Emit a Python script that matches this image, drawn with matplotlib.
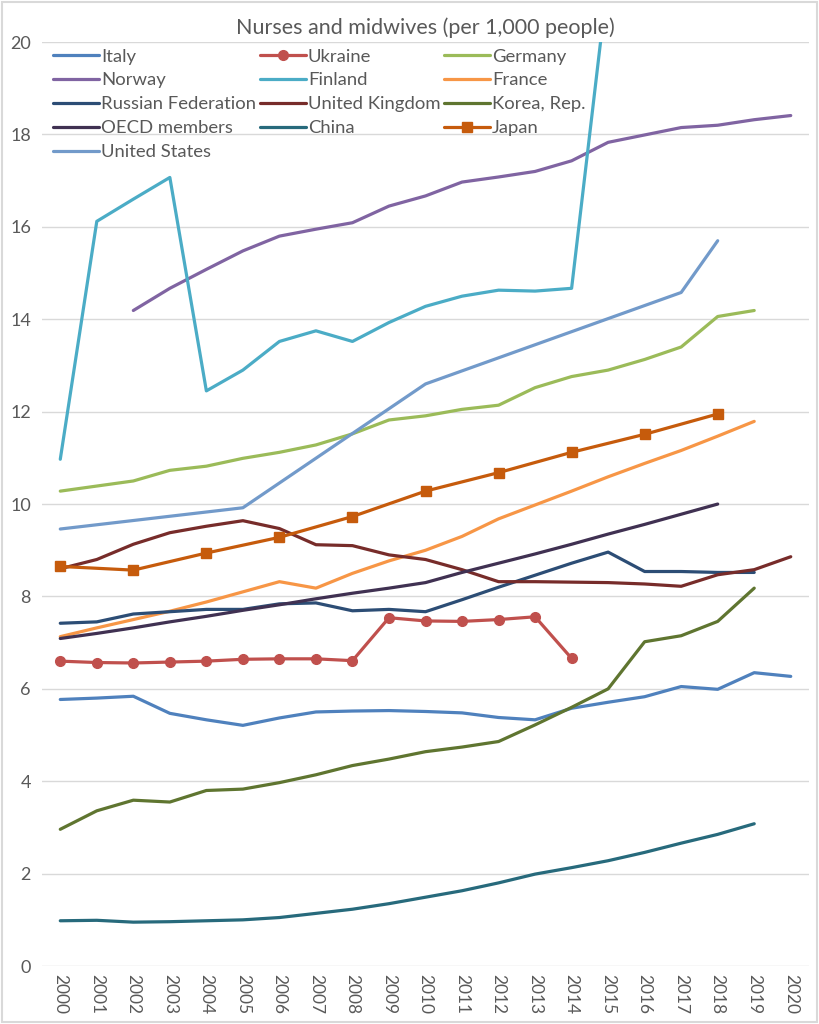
import numpy as np
import matplotlib.pyplot as plt
from matplotlib.patches import Rectangle

plt.rcParams['font.family'] = ['Lato', 'DejaVu Sans']

years = list(range(2000, 2021))

# values per 1,000 people
italy = [5.77, 5.80, 5.84, 5.47, 5.33, 5.21, 5.37, 5.50, 5.52, 5.53, 5.51,
         5.48, 5.38, 5.33, 5.58, 5.71, 5.83, 6.05, 5.99, 6.35, 6.27]
ukraine = [6.60, 6.57, 6.56, 6.58, 6.60, 6.64, 6.65, 6.65, 6.61, 7.54, 7.47,
           7.46, 7.50, 7.56, 6.66]
germany = [10.28, 10.39, 10.50, 10.73, 10.82, 10.99, 11.12, 11.28, 11.52, 11.82,
           11.91, 12.05, 12.14, 12.52, 12.76, 12.90, 13.13, 13.40, 14.06, 14.19]
norway_years = list(range(2002, 2021))
norway = [14.19, 14.67, 15.08, 15.48, 15.80, 15.95, 16.09, 16.45, 16.67, 16.97,
          17.08, 17.20, 17.43, 17.83, 17.99, 18.15, 18.20, 18.32, 18.41]
finland = [10.97, 16.12, 16.60, 17.07, 12.45, 12.90, 13.52, 13.75, 13.52, 13.93,
           14.28, 14.50, 14.63, 14.61, 14.67, 21.40]
france = [7.13, 7.32, 7.50, 7.68, 7.88, 8.10, 8.32, 8.18, 8.50, 8.77, 9.00,
          9.30, 9.68, 9.98, 10.28, 10.59, 10.88, 11.16, 11.47, 11.79]
russia = [7.42, 7.45, 7.62, 7.67, 7.72, 7.72, 7.84, 7.86, 7.69, 7.72, 7.67,
          7.93, 8.20, 8.46, 8.72, 8.96, 8.54, 8.54, 8.52, 8.52]
uk = [8.60, 8.80, 9.13, 9.38, 9.52, 9.64, 9.47, 9.12, 9.10, 8.90, 8.80,
      8.58, 8.32, 8.32, 8.31, 8.30, 8.27, 8.22, 8.47, 8.58, 8.86]
korea = [2.96, 3.36, 3.59, 3.55, 3.80, 3.83, 3.97, 4.14, 4.34, 4.48, 4.64,
         4.74, 4.86, 5.22, 5.60, 6.00, 7.02, 7.15, 7.46, 8.18]
oecd = [7.09, 7.20, 7.32, 7.45, 7.57, 7.70, 7.82, 7.95, 8.07, 8.18, 8.30,
        8.52, 8.72, 8.92, 9.13, 9.35, 9.56, 9.78, 10.00]
china = [0.98, 0.99, 0.95, 0.96, 0.98, 1.00, 1.05, 1.14, 1.23, 1.35, 1.49,
         1.63, 1.80, 1.99, 2.13, 2.28, 2.46, 2.66, 2.85, 3.08]
japan_years = [2000, 2002, 2004, 2006, 2008, 2010, 2012, 2014, 2016, 2018]
japan = [8.65, 8.57, 8.94, 9.28, 9.73, 10.28, 10.68, 11.12, 11.51, 11.95]
us_years = [2000, 2005, 2010, 2017, 2018]
us = [9.46, 9.92, 12.60, 14.58, 15.70]

series = [
    # label, x, y, colour, marker
    ("Italy", years, italy, "#4f81bd", None),
    ("Ukraine", years, ukraine, "#c0504d", "o"),
    ("Germany", years, germany, "#9bbb59", None),
    ("Norway", norway_years, norway, "#8064a2", None),
    ("Finland", years, finland, "#4bacc6", None),
    ("France", years, france, "#f79646", None),
    ("Russian Federation", years, russia, "#2c4d75", None),
    ("United Kingdom", years, uk, "#772c2a", None),
    ("Korea, Rep.", years, korea, "#5f7530", None),
    ("OECD members", years, oecd, "#403152", None),
    ("China", years, china, "#276a7c", None),
    ("Japan", japan_years, japan, "#c65b0c", "s"),
    ("United States", us_years, us, "#729aca", None),
]

fig = plt.figure(figsize=(8.19, 10.24), dpi=100)
ax = fig.add_axes([0.0513, 0.0566, 0.9365, 0.9023])

handles = {}
for label, xs, ys, col, mk in series:
    n = len(ys)
    h, = ax.plot(xs[:n], ys, color=col, lw=2.3, marker=mk, markersize=7,
                 solid_capstyle='round', label=label, clip_on=True)
    handles[label] = h

ax.set_xlim(1999.5, 2020.5)
ax.set_ylim(0, 20)
ax.set_yticks(np.arange(0, 21, 2))
ax.set_xticks(years)
ax.set_xticklabels([str(y) for y in years], rotation=-90, fontsize=12.5, color="#595959")
ax.tick_params(axis='y', labelsize=13, colors="#595959", length=0, pad=8)
ax.tick_params(axis='x', length=0, pad=6)
ax.grid(axis='y', color="#d9d9d9", lw=1)
ax.set_axisbelow(True)
for s in ax.spines.values():
    s.set_visible(False)

ax.set_title("Nurses and midwives (per 1,000 people)", fontsize=15.5,
             color="#595959", pad=6)

order = ["Italy", "Norway", "Russian Federation", "OECD members", "United States",
         "Ukraine", "Finland", "United Kingdom", "China",
         "Germany", "France", "Korea, Rep.", "Japan"]
leg = ax.legend([handles[k] for k in order], order, ncol=3, loc='upper left',
                bbox_to_anchor=(0.0, 1.005), frameon=False, fontsize=13.3,
                handlelength=2.5, handletextpad=0.1, columnspacing=0.2,
                labelspacing=0.43, borderaxespad=0.2)
for t in leg.get_texts():
    t.set_color("#595959")

fig.patches.append(Rectangle((0.002, 0.002), 0.996, 0.996, transform=fig.transFigure,
                             fill=False, edgecolor="#d9d9d9", lw=1.5))

fig.savefig("out.png", dpi=100)
